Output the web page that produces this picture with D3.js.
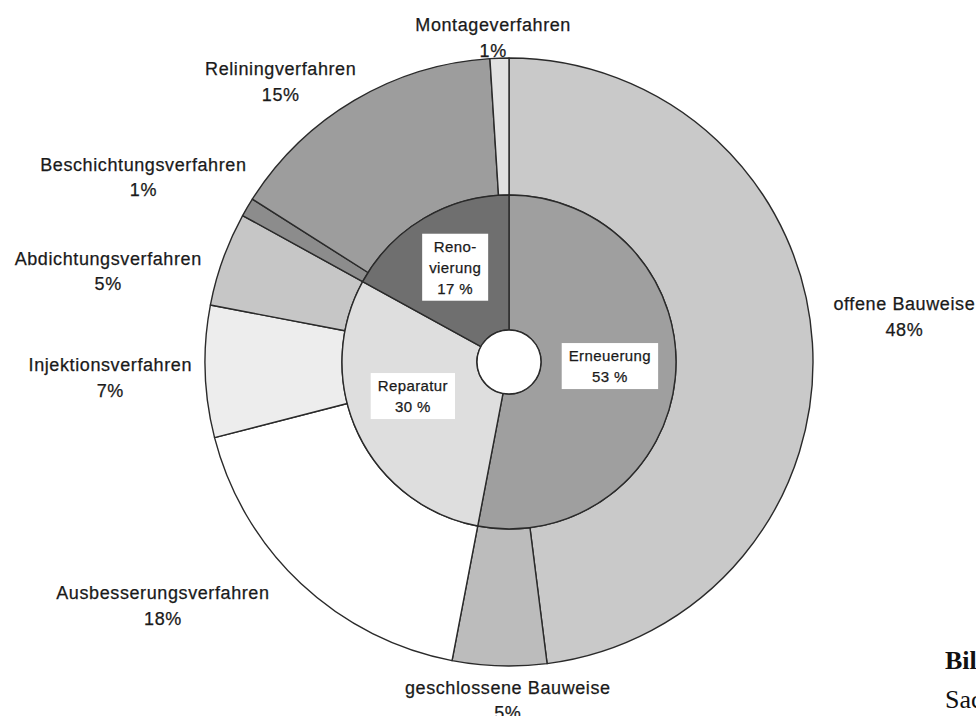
<!DOCTYPE html>
<html>
<head>
<meta charset="utf-8">
<script src="https://cdn.jsdelivr.net/npm/d3@7"></script>
<style>
  html, body { margin: 0; padding: 0; background: #fff; }
  svg { display: block; }
  .lbl { font-family: "Liberation Sans", Arial, Helvetica, sans-serif; fill: #1a1a1a;
         stroke: #1a1a1a; stroke-width: 0.25px; }
</style>
</head>
<body>
<svg id="chart" width="976" height="716"></svg>
<script>
// Inner ring: main groups of methods (percent)
const groups = ["Erneuerung", "Reparatur", "Renovierung"];
const groupValues = [53, 30, 17];
const groupLines = [["Erneuerung"], ["Reparatur"], ["Reno-", "vierung"]];

// Outer ring: individual methods, clockwise from 12 o'clock
const methods = [
  "offene Bauweise", "geschlossene Bauweise",
  "Ausbesserungsverfahren", "Injektionsverfahren", "Abdichtungsverfahren",
  "Beschichtungsverfahren", "Reliningverfahren", "Montageverfahren"
];
const methodValues = [48, 5, 18, 7, 5, 1, 15, 1];
const methodGroup = ["Erneuerung", "Erneuerung", "Reparatur", "Reparatur", "Reparatur",
                     "Renovierung", "Renovierung", "Renovierung"];

// Fill shades
const groupFill = { "Erneuerung": "#9f9f9f", "Reparatur": "#dedede", "Renovierung": "#6f6f6f" };
const methodFill = {
  "offene Bauweise": "#c9c9c9", "geschlossene Bauweise": "#bcbcbc",
  "Ausbesserungsverfahren": "#ffffff", "Injektionsverfahren": "#ededed",
  "Abdichtungsverfahren": "#c6c6c6", "Beschichtungsverfahren": "#8c8c8c",
  "Reliningverfahren": "#9d9d9d", "Montageverfahren": "#e2e2e2"
};

// Label placement (polar: degrees clockwise from top, distance from centre)
const methodLabelAt = {
  "offene Bauweise": [83.4, 398], "geschlossene Bauweise": [180.2, 338],
  "Ausbesserungsverfahren": [234.9, 423], "Injektionsverfahren": [267.8, 399],
  "Abdichtungsverfahren": [282.8, 411], "Beschichtungsverfahren": [296.9, 410],
  "Reliningverfahren": [320.9, 362], "Montageverfahren": [357.2, 325]
};
const groupLabelAt = {
  "Erneuerung": [92.3, 101], "Reparatur": [250.5, 102], "Renovierung": [330.4, 109]
};

const cx = 509, cy = 362;
const rHole = 32, rInner = 167, rOuter = 304;

const svg = d3.select("#chart");
const g = svg.append("g").attr("transform", `translate(${cx},${cy})`);

const pie = d3.pie().sort(null).value(d => d.value);

const outerData = pie(methods.map((m, i) => ({ name: m, value: methodValues[i], group: methodGroup[i] })));
const innerData = pie(groups.map((n, i) => ({ name: n, value: groupValues[i], lines: groupLines[i] })));

const outerArc = d3.arc().innerRadius(rInner).outerRadius(rOuter);
const innerArc = d3.arc().innerRadius(rHole).outerRadius(rInner);

g.selectAll("path.outer").data(outerData).join("path")
  .attr("class", "outer")
  .attr("d", outerArc)
  .attr("fill", d => methodFill[d.data.name])
  .attr("stroke", "#2a2a2a").attr("stroke-width", 1.4).attr("stroke-linejoin", "round");

g.selectAll("path.inner").data(innerData).join("path")
  .attr("class", "inner")
  .attr("d", innerArc)
  .attr("fill", d => groupFill[d.data.name])
  .attr("stroke", "#2a2a2a").attr("stroke-width", 1.4).attr("stroke-linejoin", "round");

g.append("circle").attr("r", rHole).attr("fill", "#fff")
  .attr("stroke", "#2a2a2a").attr("stroke-width", 1.4);

function polar(angDeg, r) {
  const a = angDeg * Math.PI / 180;
  return [Math.sin(a) * r, -Math.cos(a) * r];
}

// Outer labels: name and share on two lines
outerData.forEach(d => {
  const [x, y] = polar(...methodLabelAt[d.data.name]);
  const t = g.append("text").attr("class", "lbl")
    .attr("text-anchor", "middle")
    .style("font-size", "18px").style("letter-spacing", "0.6px");
  t.append("tspan").attr("x", x).attr("y", y - 6).text(d.data.name);
  t.append("tspan").attr("x", x).attr("y", y + 19.5).text(d.data.value + "%");
});

// Inner labels in white boxes
innerData.forEach(d => {
  const [x, y] = polar(...groupLabelAt[d.data.name]);
  const lines = d.data.lines.concat([d.data.value + " %"]);
  const lh = 21;
  const grp = g.append("g");
  const box = grp.append("rect").attr("fill", "#fff");
  const t = grp.append("text").attr("class", "lbl")
    .attr("text-anchor", "middle")
    .style("font-size", "15px").style("letter-spacing", "0.4px");
  lines.forEach((ln, i) => {
    t.append("tspan").attr("x", x)
      .attr("y", y + (i - (lines.length - 1) / 2) * lh + 5.5)
      .text(ln);
  });
  const bb = t.node().getBBox();
  const padX = 7, padY = 4;
  box.attr("x", bb.x - padX).attr("y", bb.y - padY)
     .attr("width", bb.width + 2 * padX).attr("height", bb.height + 2 * padY);
});

// Caption fragment at the lower right edge
const cap = svg.append("text")
  .style("font-family", "'Liberation Serif', 'Times New Roman', serif")
  .style("font-size", "26px").attr("fill", "#111");
cap.append("tspan").attr("x", 945).attr("y", 669).style("font-weight", "bold").text("Bild");
cap.append("tspan").attr("x", 945).attr("y", 708).text("Sachverhalte");
</script>
</body>
</html>
